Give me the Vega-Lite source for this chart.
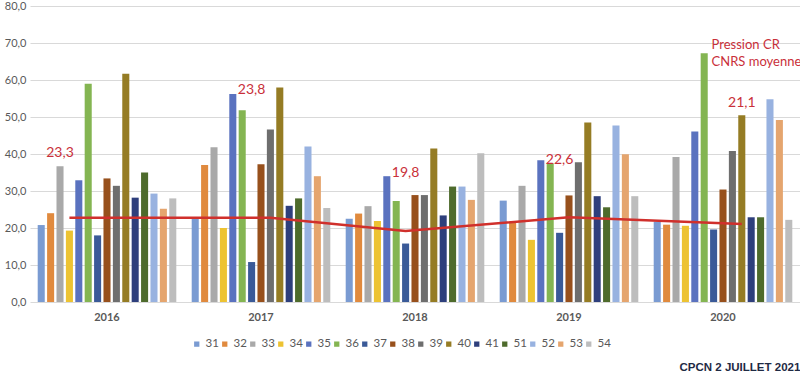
{
  "$schema": "https://vega.github.io/schema/vega-lite/v6.json",
  "width": 770,
  "height": 296,
  "autosize": {"type": "none"},
  "padding": {"left": 30, "top": 6, "right": 0, "bottom": 72},
  "config": {
    "font": "Lato",
    "view": {"stroke": null},
    "axisY": {"tickCount": 9, "labelOverlap": false, "labelExpr": "replace(format(datum.value, '.1f'), '.', ',')", "domain": false, "ticks": false, "labelPadding": 4, "labelFontSize": 11, "labelColor": "#595959", "gridColor": "#D9D9D9", "gridWidth": 1, "title": null}
  },
  "title": {"text": "CPCN 2 JUILLET 2021", "orient": "bottom", "anchor": "end", "font": "Liberation Sans", "fontSize": 11.5, "fontWeight": "bold", "color": "#1F2A44", "offset": 12, "dx": -1},
  "datasets": {
    "bars": [
      {"annee": "2016", "serie": "31", "valeur": 20.8}, {"annee": "2016", "serie": "32", "valeur": 24.0}, {"annee": "2016", "serie": "33", "valeur": 36.7}, {"annee": "2016", "serie": "34", "valeur": 19.3}, {"annee": "2016", "serie": "35", "valeur": 32.9}, {"annee": "2016", "serie": "36", "valeur": 59.0}, {"annee": "2016", "serie": "37", "valeur": 18.0}, {"annee": "2016", "serie": "38", "valeur": 33.4}, {"annee": "2016", "serie": "39", "valeur": 31.4}, {"annee": "2016", "serie": "40", "valeur": 61.7}, {"annee": "2016", "serie": "41", "valeur": 28.2}, {"annee": "2016", "serie": "51", "valeur": 35.0}, {"annee": "2016", "serie": "52", "valeur": 29.3}, {"annee": "2016", "serie": "53", "valeur": 25.2}, {"annee": "2016", "serie": "54", "valeur": 28.0},
      {"annee": "2017", "serie": "31", "valeur": 22.9}, {"annee": "2017", "serie": "32", "valeur": 37.0}, {"annee": "2017", "serie": "33", "valeur": 41.8}, {"annee": "2017", "serie": "34", "valeur": 20.0}, {"annee": "2017", "serie": "35", "valeur": 56.2}, {"annee": "2017", "serie": "36", "valeur": 51.8}, {"annee": "2017", "serie": "37", "valeur": 10.8}, {"annee": "2017", "serie": "38", "valeur": 37.2}, {"annee": "2017", "serie": "39", "valeur": 46.6}, {"annee": "2017", "serie": "40", "valeur": 58.0}, {"annee": "2017", "serie": "41", "valeur": 26.0}, {"annee": "2017", "serie": "51", "valeur": 28.0}, {"annee": "2017", "serie": "52", "valeur": 42.0}, {"annee": "2017", "serie": "53", "valeur": 34.0}, {"annee": "2017", "serie": "54", "valeur": 25.4},
      {"annee": "2018", "serie": "31", "valeur": 22.5}, {"annee": "2018", "serie": "32", "valeur": 23.9}, {"annee": "2018", "serie": "33", "valeur": 25.9}, {"annee": "2018", "serie": "34", "valeur": 21.9}, {"annee": "2018", "serie": "35", "valeur": 34.0}, {"annee": "2018", "serie": "36", "valeur": 27.3}, {"annee": "2018", "serie": "37", "valeur": 15.8}, {"annee": "2018", "serie": "38", "valeur": 28.9}, {"annee": "2018", "serie": "39", "valeur": 28.9}, {"annee": "2018", "serie": "40", "valeur": 41.5}, {"annee": "2018", "serie": "41", "valeur": 23.4}, {"annee": "2018", "serie": "51", "valeur": 31.2}, {"annee": "2018", "serie": "52", "valeur": 31.2}, {"annee": "2018", "serie": "53", "valeur": 27.6}, {"annee": "2018", "serie": "54", "valeur": 40.2},
      {"annee": "2019", "serie": "31", "valeur": 27.4}, {"annee": "2019", "serie": "32", "valeur": 21.7}, {"annee": "2019", "serie": "33", "valeur": 31.4}, {"annee": "2019", "serie": "34", "valeur": 16.8}, {"annee": "2019", "serie": "35", "valeur": 38.3}, {"annee": "2019", "serie": "36", "valeur": 37.5}, {"annee": "2019", "serie": "37", "valeur": 18.7}, {"annee": "2019", "serie": "38", "valeur": 28.8}, {"annee": "2019", "serie": "39", "valeur": 37.8}, {"annee": "2019", "serie": "40", "valeur": 48.5}, {"annee": "2019", "serie": "41", "valeur": 28.6}, {"annee": "2019", "serie": "51", "valeur": 25.6}, {"annee": "2019", "serie": "52", "valeur": 47.7}, {"annee": "2019", "serie": "53", "valeur": 39.9}, {"annee": "2019", "serie": "54", "valeur": 28.6},
      {"annee": "2020", "serie": "31", "valeur": 21.7}, {"annee": "2020", "serie": "32", "valeur": 20.9}, {"annee": "2020", "serie": "33", "valeur": 39.2}, {"annee": "2020", "serie": "34", "valeur": 20.6}, {"annee": "2020", "serie": "35", "valeur": 46.1}, {"annee": "2020", "serie": "36", "valeur": 67.2}, {"annee": "2020", "serie": "37", "valeur": 19.6}, {"annee": "2020", "serie": "38", "valeur": 30.4}, {"annee": "2020", "serie": "39", "valeur": 40.8}, {"annee": "2020", "serie": "40", "valeur": 50.5}, {"annee": "2020", "serie": "41", "valeur": 22.9}, {"annee": "2020", "serie": "51", "valeur": 22.9}, {"annee": "2020", "serie": "52", "valeur": 54.8}, {"annee": "2020", "serie": "53", "valeur": 49.2}, {"annee": "2020", "serie": "54", "valeur": 22.2}
    ],
    "moyenne": [
      {"annee": "2016", "ancre": "34", "valeur": 22.8},
      {"annee": "2017", "ancre": "39", "valeur": 22.8},
      {"annee": "2018", "ancre": "37", "valeur": 19.2},
      {"annee": "2019", "ancre": "38", "valeur": 22.9},
      {"annee": "2020", "ancre": "40", "valeur": 21.1}
    ],
    "etiquettes": [
      {"annee": "2016", "ancre": "33", "hauteur": 40.4, "texte": "23,3"},
      {"annee": "2017", "ancre": "37", "hauteur": 57.4, "texte": "23,8"},
      {"annee": "2018", "ancre": "37", "hauteur": 34.8, "texte": "19,8"},
      {"annee": "2019", "ancre": "37", "hauteur": 38.5, "texte": "22,6"},
      {"annee": "2020", "ancre": "40", "hauteur": 53.9, "texte": "21,1"}
    ],
    "note": [
      {"annee": "2020", "ancre": "37", "hauteur": 71.2, "texte": "Pression CR\nCNRS moyenne"}
    ]
  },
  "encoding": {
    "x": {
      "field": "annee", "type": "nominal",
      "scale": {"paddingInner": 0.1, "paddingOuter": 0.05},
      "axis": {"title": null, "labelAngle": 0, "labelFontWeight": "bold", "labelFontSize": 11, "labelColor": "#595959", "domain": false, "ticks": false, "labelPadding": 9}
    }
  },
  "layer": [
    {
      "data": {"name": "bars"},
      "mark": {"type": "bar"},
      "encoding": {
        "xOffset": {
          "field": "serie", "type": "nominal",
          "scale": {"domain": ["31","32","33","34","35","36","37","38","39","40","41","51","52","53","54"], "paddingInner": 0.25}
        },
        "y": {
          "field": "valeur", "type": "quantitative",
          "scale": {"domain": [0, 80], "nice": false},
          "axis": {"values": [0,10,20,30,40,50,60,70,80], "tickCount": 9}
        },
        "color": {
          "field": "serie", "type": "nominal",
          "scale": {
            "domain": ["31","32","33","34","35","36","37","38","39","40","41","51","52","53","54"],
            "range": ["#7A9BD2","#E08A3E","#A9A9A9","#EDC332","#5A72BF","#84B552","#3A5A98","#97501C","#6E6E6E","#957C24","#2E3F7C","#4E6B2C","#98B2E0","#E5A56E","#BDBDBD"]
          },
          "legend": {"title": null, "orient": "none", "legendX": 161, "legendY": 332, "direction": "horizontal", "columns": 15, "symbolType": "square", "symbolSize": 28, "symbolStrokeWidth": 0, "labelFontSize": 11.5, "labelColor": "#595959", "labelOffset": 3, "columnPadding": 0}
        }
      }
    },
    {
      "data": {"name": "moyenne"},
      "mark": {"type": "line", "color": "#D0302C", "strokeWidth": 2.5},
      "encoding": {
        "xOffset": {"field": "ancre", "type": "nominal"},
        "y": {"field": "valeur", "type": "quantitative"}
      }
    },
    {
      "data": {"name": "etiquettes"},
      "mark": {"type": "text", "color": "#C9303A", "fontSize": 14, "baseline": "middle", "align": "center"},
      "encoding": {
        "xOffset": {"field": "ancre", "type": "nominal"},
        "y": {"field": "hauteur", "type": "quantitative"},
        "text": {"field": "texte"}
      }
    },
    {
      "data": {"name": "note"},
      "mark": {"type": "text", "color": "#C9303A", "fontSize": 13, "baseline": "top", "align": "left", "lineBreak": "\n", "lineHeight": 17, "dx": -2},
      "encoding": {
        "xOffset": {"field": "ancre", "type": "nominal"},
        "y": {"field": "hauteur", "type": "quantitative"},
        "text": {"field": "texte"}
      }
    }
  ]
}
